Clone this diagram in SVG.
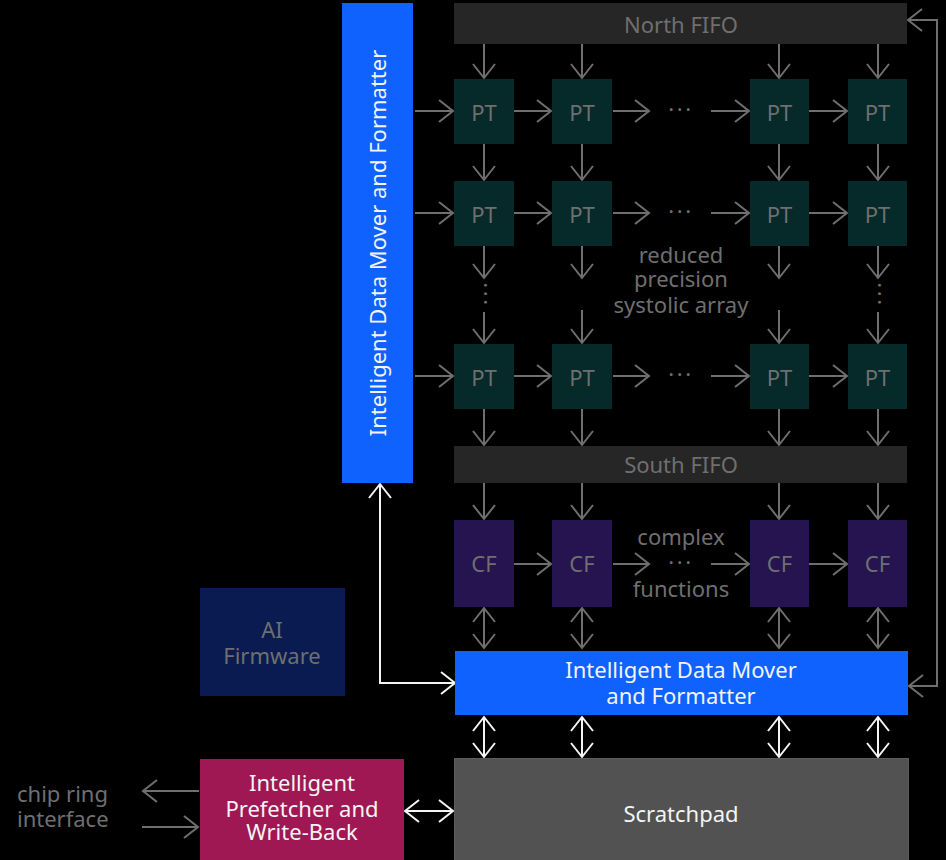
<svg xmlns="http://www.w3.org/2000/svg" width="946" height="860" viewBox="0 0 946 860">
<style>
text{font-family:"Noto Sans","Open Sans",sans-serif;font-size:22px;text-anchor:middle}
.g{fill:#6f6f6f}
.w{fill:#f4f4f4}
.ag{stroke:#6f6f6f;stroke-width:2;fill:none;marker-end:url(#mg)}
.agd{stroke:#6f6f6f;stroke-width:2;fill:none;marker-end:url(#mg);marker-start:url(#mg)}
.awd{stroke:#f4f4f4;stroke-width:2;fill:none;marker-end:url(#mw);marker-start:url(#mw)}
.pt{fill:#06292a}
.cf{fill:#251450}
.fifo{fill:#262626}
.dots{letter-spacing:2.6px}
</style>
<defs>
<marker id="mg" markerUnits="userSpaceOnUse" viewBox="-17 -13 19 26" refX="0" refY="0" markerWidth="19" markerHeight="26" orient="auto-start-reverse">
<path d="M-14,-11 L0,0 L-14,11" fill="none" stroke="#6f6f6f" stroke-width="2"/>
</marker>
<marker id="mw" markerUnits="userSpaceOnUse" viewBox="-17 -13 19 26" refX="0" refY="0" markerWidth="19" markerHeight="26" orient="auto-start-reverse">
<path d="M-14,-11 L0,0 L-14,11" fill="none" stroke="#f4f4f4" stroke-width="2"/>
</marker>
</defs>
<rect width="946" height="860" fill="#000"/>

<g id="connectors">
<path class="ag" d="M415,111H453"/><path class="ag" d="M514,111H551"/><path class="ag" d="M613,111H649"/><path class="ag" d="M711,111H749"/><path class="ag" d="M809,111H847"/>
<path class="ag" d="M415,213H453"/><path class="ag" d="M514,213H551"/><path class="ag" d="M613,213H649"/><path class="ag" d="M711,213H749"/><path class="ag" d="M809,213H847"/>
<path class="ag" d="M415,376H453"/><path class="ag" d="M514,376H551"/><path class="ag" d="M613,376H649"/><path class="ag" d="M711,376H749"/><path class="ag" d="M809,376H847"/>
<path class="ag" d="M514,564H551"/><path class="ag" d="M613,564H649"/><path class="ag" d="M711,564H749"/><path class="ag" d="M809,564H847"/>
<path class="ag" d="M484,44V78"/><path class="ag" d="M582,44V78"/><path class="ag" d="M779,44V78"/><path class="ag" d="M878,44V78"/>
<path class="ag" d="M484,144V180"/><path class="ag" d="M582,144V180"/><path class="ag" d="M779,144V180"/><path class="ag" d="M878,144V180"/>
<path class="ag" d="M484,246V278"/><path class="ag" d="M582,246V278"/><path class="ag" d="M779,246V278"/><path class="ag" d="M878,246V278"/>
<path class="ag" d="M484,312V343"/><path class="ag" d="M582,310V343"/><path class="ag" d="M779,310V343"/><path class="ag" d="M878,312V343"/>
<path class="ag" d="M484,409V445"/><path class="ag" d="M582,409V445"/><path class="ag" d="M779,409V445"/><path class="ag" d="M878,409V445"/>
<path class="ag" d="M484,483V519"/><path class="ag" d="M582,483V519"/><path class="ag" d="M779,483V519"/><path class="ag" d="M878,483V519"/>
<path class="agd" d="M484,608V648"/><path class="agd" d="M582,608V648"/><path class="agd" d="M779,608V648"/><path class="agd" d="M878,608V648"/>
<path class="awd" d="M484,717V757"/><path class="awd" d="M582,717V757"/><path class="awd" d="M779,717V757"/><path class="awd" d="M878,717V757"/>
<path class="awd" d="M380,484V683H455"/>
<path class="agd" d="M909,686H937V20H908"/>
<path class="awd" d="M405,811H453"/>
<path class="ag" d="M199,791H143"/>
<path class="ag" d="M142,827H198"/>
</g>

<g id="left-idmf">
<rect x="342" y="3" width="71" height="480" fill="#0f62fe"/>
<text class="w" transform="translate(386,243) rotate(-90)">Intelligent Data Mover and Formatter</text>
</g>

<g id="north-fifo">
<rect class="fifo" x="454" y="3" width="453" height="41"/>
<text class="g" x="681" y="33">North FIFO</text>
</g>

<g id="pt-r1c1"><rect class="pt" x="454" y="79" width="60" height="65"/><text class="g" x="484" y="121">PT</text></g>
<g id="pt-r1c2"><rect class="pt" x="552" y="79" width="60" height="65"/><text class="g" x="582" y="121">PT</text></g>
<g id="pt-r1c3"><rect class="pt" x="750" y="79" width="59" height="65"/><text class="g" x="779.5" y="121">PT</text></g>
<g id="pt-r1c4"><rect class="pt" x="848" y="79" width="59" height="65"/><text class="g" x="877.5" y="121">PT</text></g>

<g id="pt-r2c1"><rect class="pt" x="454" y="181" width="60" height="65"/><text class="g" x="484" y="223">PT</text></g>
<g id="pt-r2c2"><rect class="pt" x="552" y="181" width="60" height="65"/><text class="g" x="582" y="223">PT</text></g>
<g id="pt-r2c3"><rect class="pt" x="750" y="181" width="59" height="65"/><text class="g" x="779.5" y="223">PT</text></g>
<g id="pt-r2c4"><rect class="pt" x="848" y="181" width="59" height="65"/><text class="g" x="877.5" y="223">PT</text></g>

<g id="pt-r3c1"><rect class="pt" x="454" y="344" width="60" height="65"/><text class="g" x="484" y="386">PT</text></g>
<g id="pt-r3c2"><rect class="pt" x="552" y="344" width="60" height="65"/><text class="g" x="582" y="386">PT</text></g>
<g id="pt-r3c3"><rect class="pt" x="750" y="344" width="59" height="65"/><text class="g" x="779.5" y="386">PT</text></g>
<g id="pt-r3c4"><rect class="pt" x="848" y="344" width="59" height="65"/><text class="g" x="877.5" y="386">PT</text></g>

<g id="ellipses">
<text class="g dots" x="681" y="117">···</text>
<text class="g dots" x="681" y="219">···</text>
<text class="g dots" x="681" y="382">···</text>
<text class="g dots" transform="translate(478,295) rotate(90)" x="0" y="0">···</text>
<text class="g dots" transform="translate(872,295) rotate(90)" x="0" y="0">···</text>
</g>

<g id="array-label">
<text class="g"><tspan x="681" y="263">reduced</tspan><tspan x="681" y="287">precision</tspan><tspan x="681" y="313">systolic array</tspan></text>
</g>

<g id="south-fifo">
<rect class="fifo" x="454" y="446" width="453" height="37"/>
<text class="g" x="681" y="473">South FIFO</text>
</g>

<g id="cf1"><rect class="cf" x="454" y="520" width="60" height="87"/><text class="g" x="484" y="572">CF</text></g>
<g id="cf2"><rect class="cf" x="552" y="520" width="60" height="87"/><text class="g" x="582" y="572">CF</text></g>
<g id="cf3"><rect class="cf" x="750" y="520" width="59" height="87"/><text class="g" x="779.5" y="572">CF</text></g>
<g id="cf4"><rect class="cf" x="848" y="520" width="59" height="87"/><text class="g" x="877.5" y="572">CF</text></g>

<g id="cf-label">
<text class="g"><tspan x="681" y="545">complex</tspan><tspan class="dots" x="681" y="570">···</tspan><tspan x="681" y="597">functions</tspan></text>
</g>

<g id="bottom-idmf">
<rect x="455" y="651" width="453" height="64" fill="#0f62fe"/>
<text class="w"><tspan x="681" y="678">Intelligent Data Mover</tspan><tspan x="681" y="704">and Formatter</tspan></text>
</g>

<g id="ai-firmware">
<rect x="200" y="588" width="145" height="108" fill="#091b50"/>
<text class="g"><tspan x="272" y="638">AI</tspan><tspan x="272" y="664">Firmware</tspan></text>
</g>

<g id="prefetcher">
<rect x="200" y="759" width="204" height="101" fill="#9f1853"/>
<text class="w"><tspan x="302" y="791">Intelligent</tspan><tspan x="302" y="817">Prefetcher and</tspan><tspan x="302" y="840">Write-Back</tspan></text>
</g>

<g id="scratchpad">
<rect x="454.5" y="758.5" width="454" height="102" fill="#525252" stroke="#5c5c5c" stroke-width="1"/>
<text class="w" x="681" y="822">Scratchpad</text>
</g>

<g id="chip-ring">
<text class="g" style="text-anchor:start"><tspan x="17" y="802">chip ring</tspan><tspan x="17" y="827">interface</tspan></text>
</g>
</svg>
